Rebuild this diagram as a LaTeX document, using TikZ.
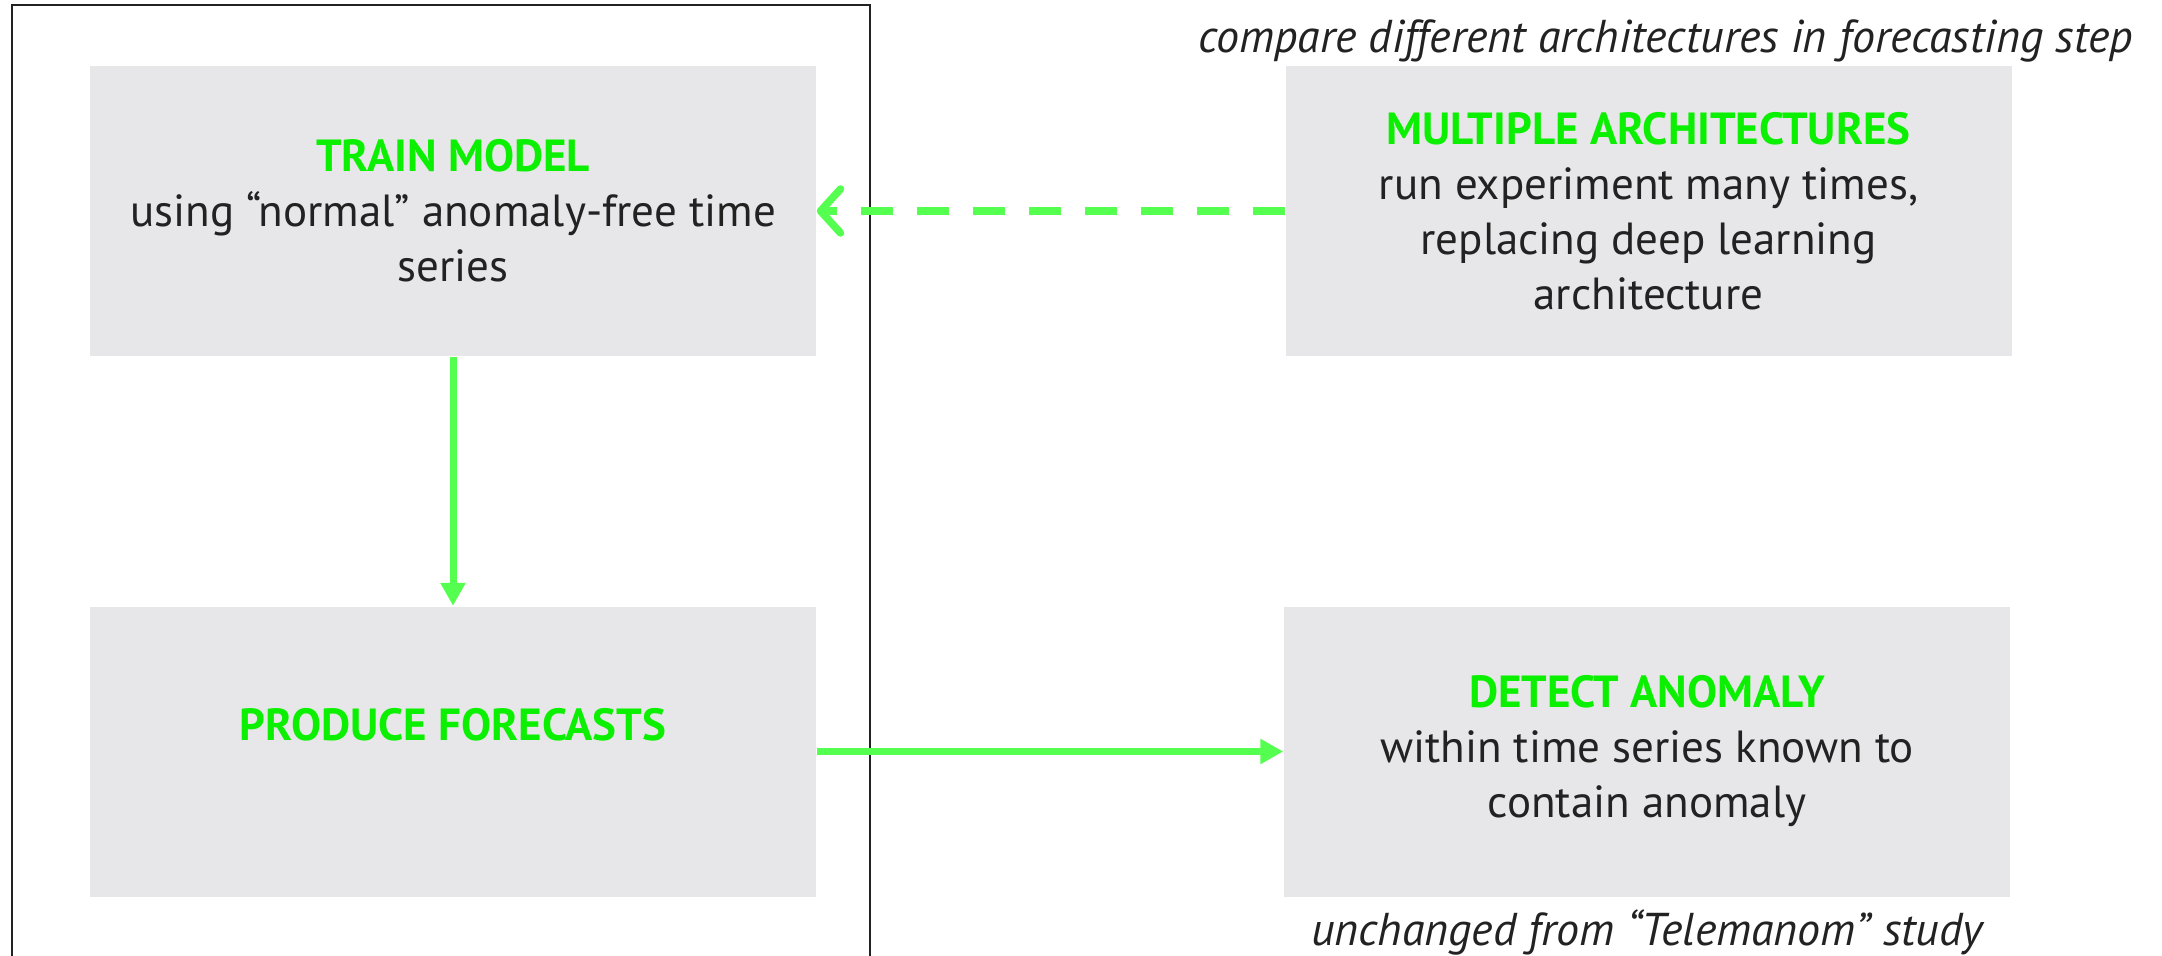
\documentclass[tikz,border=0pt]{standalone}
\usepackage{fontspec}
\setmainfont{PT Sans}
\usetikzlibrary{arrows.meta}

\definecolor{boxgrey}{RGB}{231,231,233}
\definecolor{titlegreen}{RGB}{10,240,0}
\definecolor{arrowgreen}{RGB}{85,255,80}
\definecolor{textdark}{RGB}{34,34,34}

\tikzset{every picture/.style={line width=0.75pt}}
\tikzset{
  stepbox/.style={fill=boxgrey, draw=none, minimum width=363pt, minimum height=145pt,
    inner sep=0pt, align=center, text=textdark, font=\fontsize{22.5}{27.5}\selectfont},
  flow/.style={draw=arrowgreen, line width=3.5pt, -{Triangle[length=11.5pt,width=12pt]}},
  dashflow/.style={draw=arrowgreen, line width=3.75pt, dash pattern={on 16pt off 12pt},
    -{Straight Barb[length=10pt,width=22pt,line cap=round,line join=round]}},
  frame/.style={draw=textdark, line width=1.4pt},
  note/.style={inner sep=0pt, text=textdark, font=\fontsize{23}{27.5}\selectfont\itshape}
}
\newcommand{\steptitle}[1]{\textcolor{titlegreen}{\bfseries #1}}

\begin{document}
\begin{tikzpicture}[x=0.5pt,y=0.5pt,yscale=-1]
\useasboundingbox (0,0) rectangle (2162,956);

%Shape: Open Frame
\draw [frame] (12,956) -- (12,5) -- (870,5) -- (870,956) ;

%Shape: Rectangle
\node [stepbox] (train) at (453,211) {\steptitle{TRAIN MODEL}\\using “normal” anomaly-free time\\series};
%Shape: Rectangle
\node [stepbox] (forecast) at (453,751.5) {\steptitle{PRODUCE FORECASTS}\\\mbox{}};
%Shape: Rectangle
\node [stepbox] (multi) at (1648.5,211) {\steptitle{MULTIPLE ARCHITECTURES}\\run experiment many times,\\replacing deep learning\\architecture};
%Shape: Rectangle
\node [stepbox] (detect) at (1647,751.5) {\steptitle{DETECT ANOMALY}\\within time series known to\\contain anomaly};

%Straight Lines
\draw [flow] (train) -- (forecast) ;
%Straight Lines
\draw [flow] (forecast) -- (detect) ;
%Straight Lines
\draw [dashflow] (multi) -- (train) ;

% Text Node
\node [note, anchor=east] (compare) at (2134,41) {compare different architectures in forecasting step};
% Text Node
\node [note] (unchanged) at (1647,932) {unchanged from “Telemanom” study};

\end{tikzpicture}
\end{document}
